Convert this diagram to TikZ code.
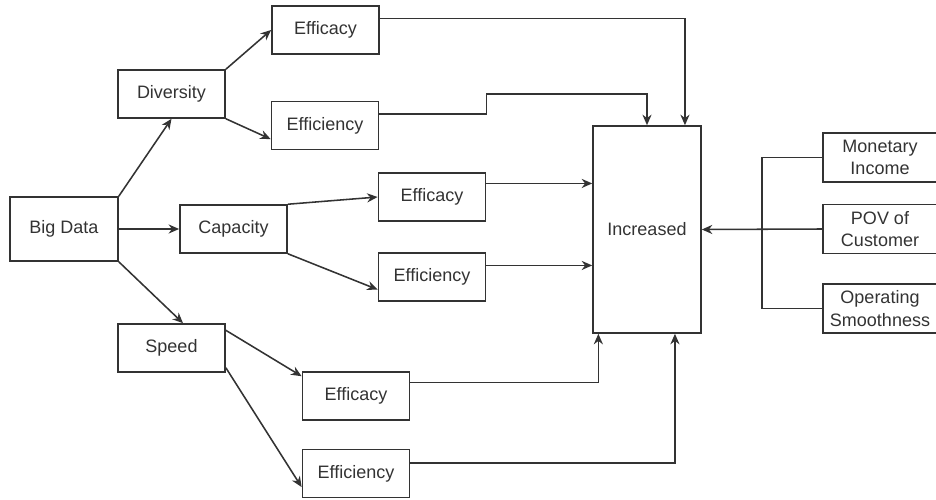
\documentclass[tikz,border=0pt]{standalone}
\usepackage{fontspec}
\setmainfont{Liberation Sans}
\usetikzlibrary{arrows.meta}
\tikzset{%
  block/.style  = {shape=rectangle, draw=black!80, line width=1.1pt,%
                   align=center, inner sep=2pt,%
                   minimum width=2.68cm, minimum height=1.2cm,%
                   text=black!80, font=\fontsize{12.8}{16}\selectfont},%
  source/.style = {block, minimum width=2.7cm, minimum height=1.6cm},%
  target/.style = {block, minimum width=2.7cm, minimum height=5.175cm},%
  factor/.style = {block, minimum width=2.85cm, minimum height=1.225cm},%
  link/.style   = {draw=black!80, line width=1.1pt},%
  flow/.style   = {link, -{Stealth[length=7.5pt,width=6.5pt]}}%
}

\begin{document}
\begin{tikzpicture}[x=0.025cm,y=-0.025cm]
	\useasboundingbox (0,0) rectangle (936,500);
	\node [source] (bigdata) at (64,229) {Big Data};
	\node [block] (diversity) at (171.5,94) {Diversity};
	\node [block] (capacity) at (233.5,229) {Capacity};
	\node [block] (speed) at (171.5,348) {Speed};
	\node [block] (efficacyA) at (325.5,30) {Efficacy};
	\node [block] (efficiencyA) at (325,125.5) {Efficiency};
	\node [block] (efficacyB) at (432,197) {Efficacy};
	\node [block] (efficiencyB) at (432,277) {Efficiency};
	\node [block] (efficacyC) at (356,396) {Efficacy};
	\node [block] (efficiencyC) at (356,473.5) {Efficiency};
	\node [target] (increased) at (647,229.5) {Increased};
	\node [factor] (monetary) at (880,157.5) {Monetary\\Income};
	\node [factor] (pov) at (880,229) {POV of\\Customer};
	\node [factor] (operating) at (880,308.5) {Operating\\Smoothness};
	\coordinate (bus) at (762,229);

	\draw [flow] (bigdata.north east) -- (diversity.south);
	\draw [flow] (bigdata.east) -- (capacity.west);
	\draw [flow] (bigdata.south east) -- (speed.65);
	\draw [flow] (diversity.north east) -- (efficacyA.west);
	\draw [flow] (diversity.south east) -- (efficiencyA.194);
	\draw [flow] (capacity.north east) -- (efficacyB.west);
	\draw [flow] (capacity.south east) -- (efficiencyB.193);
	\draw [flow] (speed.18) -- (efficacyC.160);
	\draw [flow] (speed.-20) -- (efficiencyC.194);

	\draw [flow] (efficacyA.12) -| (increased.70);
	\draw [flow] (efficiencyA.12) -- ++(107,0) -- ++(0,-20) -| (increased.north);
	\draw [flow] (efficacyB.14) -- (efficacyB.14 -| increased.west);
	\draw [flow] (efficiencyB.12) -- (efficiencyB.12 -| increased.west);
	\draw [flow] (efficacyC.14) -| (increased.245.6);
	\draw [flow] (efficiencyC.11) -| (increased.-75);

	\draw [link] (monetary.west) -- (monetary.west -| bus) -- (operating.west -| bus) -- (operating.west);
	\draw [flow] (pov.west) -- (increased.east);
\end{tikzpicture}
\end{document}
